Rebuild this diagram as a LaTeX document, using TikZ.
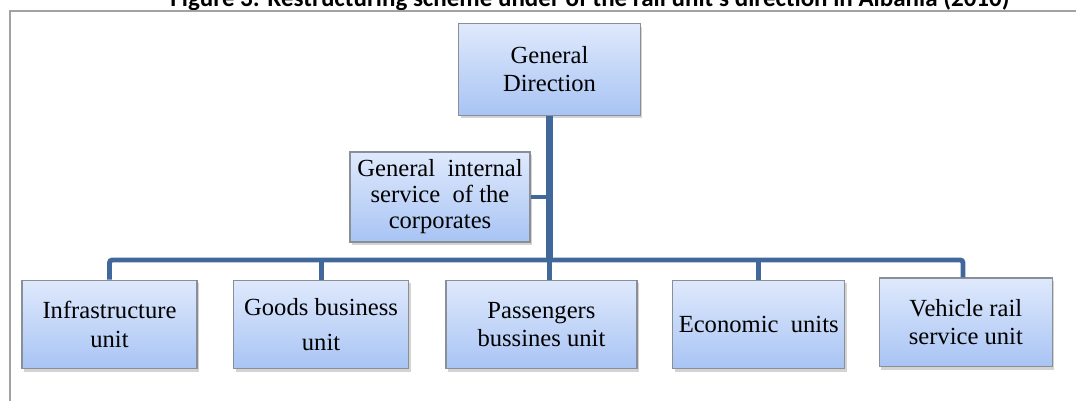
\documentclass[tikz,border=0pt]{standalone}
\usepackage{fontspec}
\setmainfont{Liberation Serif}
\newfontfamily\captionfont{Carlito}
\usetikzlibrary{positioning, shadows}

\definecolor{boxtop}{HTML}{DFE9FC}
\definecolor{boxbot}{HTML}{A8C4F4}
\definecolor{boxline}{HTML}{8A8E96}
\definecolor{linkblue}{HTML}{41689A}
\definecolor{framegrey}{HTML}{A2A2A2}

\begin{document}
\begin{tikzpicture}[
    x=0.025cm, y=-0.025cm,
    unit/.style={
        rectangle, draw=boxline, thick,
        top color=boxtop, bottom color=boxbot,
        drop shadow={opacity=0.35, shadow xshift=1.5pt, shadow yshift=-2pt},
        align=center, minimum height=2.22cm, inner sep=2pt,
        font=\fontsize{17.5}{20}\selectfont
    },
    trunk/.style={draw=linkblue, line width=5.5pt},
    link/.style={draw=linkblue, line width=3.5pt, rounded corners=2pt},
    frame/.style={draw=framegrey, line width=1.4pt}
]
\useasboundingbox (0,0) rectangle (1076,401);
\clip (0,0) rectangle (1076,401);

% caption and page frame
\node[anchor=base, font=\captionfont\bfseries\fontsize{17.8}{20}\selectfont, inner sep=0pt]
    (caption) at (590,7)
    {Figure 3: Restructuring scheme under of the rail unit's direction in Albania (2010)};
\draw[frame] (10,401) -- (10,11) -- (1076,11);

% top of the chart
\node[unit, minimum width=4.53cm, minimum height=2.28cm] (gd) at (549.5,69.5)
    {General\\Direction};
\node[unit, minimum width=4.5cm, minimum height=2.25cm,
      font=\fontsize{17.5}{18.5}\selectfont] (svc) at (440,197)
    {General~ internal\\service~ of the\\corporates};

% the units
\node[unit, minimum width=4.375cm] (infra) at (109.5,324.5)
    {Infrastructure\\unit};
\node[unit, minimum width=4.375cm, right=0.885cm of infra] (goods)
    {Goods business\\[5pt]unit};
\node[unit, minimum width=4.775cm, right=0.905cm of goods] (pass)
    {Passengers\\bussines unit};
\node[unit, minimum width=4.3cm, right=0.865cm of pass] (econ)
    {Economic~ units};
\node[unit, minimum width=4.325cm, right=0.835cm of econ, yshift=1.5pt] (veh)
    {Vehicle rail\\service unit};

% connectors
\coordinate (bus) at (0,260);
\begin{scope}[on background layer/.try]
\draw[link] (infra.north) |- ([xshift=-2pt]bus -| veh.north) -- ([xshift=-2pt]veh.north);
\draw[link] (goods.north) -- (goods.north |- bus);
\draw[link] (econ.north) -- (econ.north |- bus);
\draw[link] (gd.south |- bus) -- (gd.south |- pass.north);
\draw[link] (svc.east) -- (svc.east -| gd.south);
\draw[trunk] (gd.south) -- (gd.south |- bus);
\end{scope}
\end{tikzpicture}
\end{document}
